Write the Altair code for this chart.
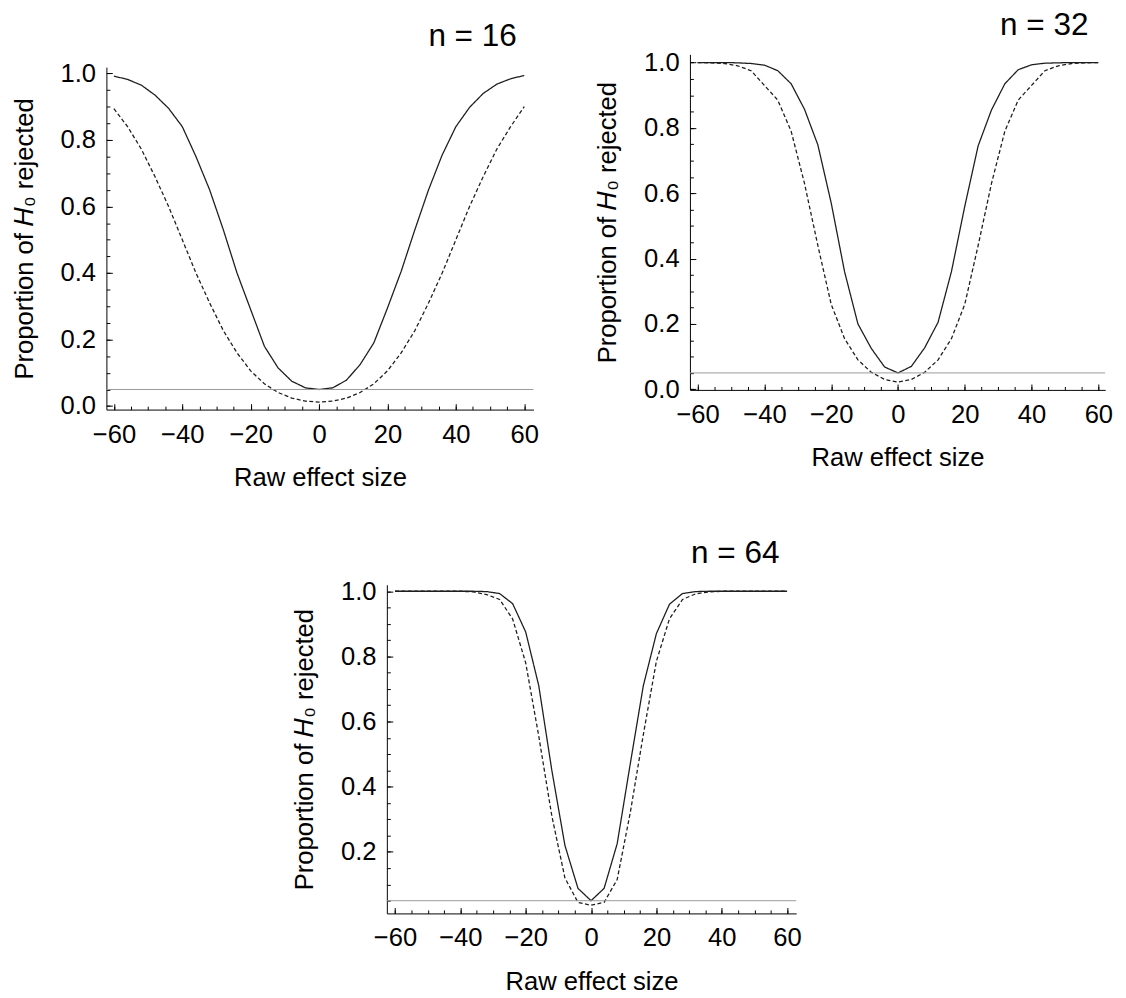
import altair as alt
import pandas as pd

FONT = "Liberation Sans"
TICK_COLOR = "black"

x_values = [-60, -56, -52, -48, -44, -40, -36, -32, -28, -24, -20, -16, -12, -8, -4, 0,
            4, 8, 12, 16, 20, 24, 28, 32, 36, 40, 44, 48, 52, 56, 60]

# n = 16
solid_16 = [0.992, 0.982, 0.965, 0.935, 0.895, 0.84, 0.75, 0.65, 0.53, 0.40, 0.29, 0.18, 0.115, 0.075, 0.055, 0.05,
            0.055, 0.078, 0.125, 0.19, 0.295, 0.405, 0.53, 0.65, 0.755, 0.84, 0.898, 0.94, 0.968, 0.984, 0.994]
dashed_16 = [0.894, 0.84, 0.773, 0.69, 0.60, 0.50, 0.40, 0.31, 0.227, 0.16, 0.106, 0.067, 0.041, 0.024, 0.015, 0.012,
             0.015, 0.024, 0.041, 0.067, 0.106, 0.16, 0.227, 0.31, 0.40, 0.50, 0.60, 0.69, 0.773, 0.84, 0.90]
# n = 32
solid_32 = [1.0, 1.0, 1.0, 0.999, 0.997, 0.992, 0.975, 0.935, 0.857, 0.748, 0.57, 0.36, 0.20, 0.125, 0.068, 0.05,
            0.07, 0.127, 0.205, 0.36, 0.56, 0.745, 0.855, 0.935, 0.978, 0.993, 0.998, 0.999, 1.0, 1.0, 1.0]
dashed_32 = [1.0, 0.999, 0.997, 0.99, 0.975, 0.93, 0.885, 0.79, 0.63, 0.44, 0.26, 0.155, 0.09, 0.052, 0.03, 0.022,
             0.03, 0.052, 0.09, 0.155, 0.26, 0.44, 0.63, 0.79, 0.885, 0.93, 0.975, 0.99, 0.997, 0.999, 1.0]
# n = 64
solid_64 = [1.0, 1.0, 1.0, 1.0, 1.0, 1.0, 1.0, 0.999, 0.993, 0.962, 0.875, 0.71, 0.45, 0.22, 0.088, 0.05,
            0.088, 0.225, 0.47, 0.71, 0.87, 0.96, 0.993, 0.999, 1.0, 1.0, 1.0, 1.0, 1.0, 1.0, 1.0]
dashed_64 = [1.0, 1.0, 1.0, 1.0, 1.0, 1.0, 0.998, 0.99, 0.975, 0.915, 0.78, 0.555, 0.31, 0.12, 0.045, 0.036,
             0.045, 0.115, 0.32, 0.56, 0.785, 0.915, 0.975, 0.992, 0.998, 1.0, 1.0, 1.0, 1.0, 1.0, 1.0]

alpha_level = [0.05]

x_major = [-60, -40, -20, 0, 20, 40, 60]
x_minor = [-60, -55, -50, -45, -40, -35, -30, -25, -20, -15, -10, -5, 0,
           5, 10, 15, 20, 25, 30, 35, 40, 45, 50, 55, 60]
y_major = [0.0, 0.2, 0.4, 0.6, 0.8, 1.0]
y_major_64 = [0.2, 0.4, 0.6, 0.8, 1.0]
y_minor = [0.0, 0.05, 0.1, 0.15, 0.2, 0.25, 0.3, 0.35, 0.4, 0.45, 0.5, 0.55, 0.6, 0.65,
           0.7, 0.75, 0.8, 0.85, 0.9, 0.95, 1.0]
y_minor_64 = [0.05, 0.1, 0.15, 0.2, 0.25, 0.3, 0.35, 0.4, 0.45, 0.5, 0.55, 0.6, 0.65,
              0.7, 0.75, 0.8, 0.85, 0.9, 0.95, 1.0]

Y_TITLE = "Proportion of \U0001D43B\u2080 rejected"
X_TITLE = "Raw effect size"


def panel(title, solid, dashed, xdom, ydom, W, H, ymaj, ymin):
    rows = [{"x": x, "p": v, "s": "solid"} for x, v in zip(x_values, solid)]
    rows += [{"x": x, "p": v, "s": "dashed"} for x, v in zip(x_values, dashed)]
    df = pd.DataFrame(rows)

    xs = alt.Scale(domain=xdom, nice=False, zero=False)
    ys = alt.Scale(domain=ydom, nice=False, zero=False)

    main_x = alt.Axis(orient="bottom", values=x_major, ticks=False, tickSize=0, labelPadding=12,
                      labelFont=FONT, labelFontSize=26, labelColor="black", labelFlush=False,
                      labelOverlap=False, domainColor="black", domainWidth=1, grid=False,
                      title=X_TITLE, titleFont=FONT, titleFontSize=26,
                      titleFontWeight="normal", titleColor="black", titlePadding=18)
    main_y = alt.Axis(orient="left", values=ymaj, format=".1f", ticks=False, tickSize=0, labelPadding=11,
                      labelFont=FONT, labelFontSize=26, labelColor="black", labelFlush=False,
                      labelOverlap=False, domainColor="black", domainWidth=1, grid=False,
                      title=Y_TITLE, titleFont=FONT, titleFontSize=26,
                      titleFontWeight="normal", titleColor="black", titlePadding=23)

    lines = alt.Chart(df).mark_line(color="#1e1e1e", strokeWidth=1.3).encode(
        x=alt.X("x:Q", scale=xs, axis=main_x),
        y=alt.Y("p:Q", scale=ys, axis=main_y),
        strokeDash=alt.StrokeDash("s:N", scale=alt.Scale(domain=["solid", "dashed"],
                                                         range=[[1, 0], [4, 2.5]]), legend=None),
        detail="s:N",
    )
    hline = alt.Chart(pd.DataFrame({"y": alpha_level})).mark_rule(color="#999999", strokeWidth=1).encode(
        y=alt.Y("y:Q", scale=ys, axis=main_y)
    )
    inner = alt.layer(lines, hline)

    def tick_layer(xv, yv, size):
        return alt.Chart(df).mark_point(opacity=0, size=1).encode(
            x=alt.X("x:Q", scale=xs, axis=alt.Axis(orient="top", offset=-H, values=xv, labels=False,
                                                   domain=False, ticks=True, tickSize=size,
                                                   tickColor=TICK_COLOR, tickWidth=1, grid=False, title=None)),
            y=alt.Y("p:Q", scale=ys, axis=alt.Axis(orient="right", offset=-W, values=yv, labels=False,
                                                   domain=False, ticks=True, tickSize=size,
                                                   tickColor=TICK_COLOR, tickWidth=1, grid=False, title=None)),
        )

    major = tick_layer(x_major, ymaj, 6)
    minor = tick_layer(x_minor, ymin, 3.5)

    return alt.layer(inner, major, minor).resolve_scale(x="independent", y="independent").properties(
        width=W, height=H,
        title=alt.TitleParams(text=title, anchor="end", frame="group", dx=-17, offset=-16.7,
                              baseline="alphabetic", font=FONT, fontSize=32, fontWeight="normal",
                              color="black"),
    )


def vspacer(h):
    return alt.Chart(pd.DataFrame({"a": [0]})).mark_rule(opacity=0).encode(
        x=alt.value(0), y=alt.value(0), y2=alt.value(h)
    ).properties(width=1, height=h)


def hspacer(w):
    return alt.Chart(pd.DataFrame({"a": [0]})).mark_rule(opacity=0).encode(
        x=alt.value(0), x2=alt.value(w), y=alt.value(0)
    ).properties(width=w, height=1)


p1 = panel("n = 16", solid_16, dashed_16, [-62.2, 62.7], [-0.0104, 1.019], 434, 348,
           y_major, y_minor)
p2 = panel("n = 32", solid_32, dashed_32, [-62.3, 62.05], [-0.002, 1.025], 422, 341,
           y_major, y_minor)
p3 = panel("n = 64", solid_64, dashed_64, [-62.5, 62.8], [0.011, 1.02], 416, 334,
           y_major_64, y_minor_64)

row1 = alt.hconcat(
    alt.vconcat(vspacer(15), p1, spacing=0),
    alt.vconcat(vspacer(4), p2, spacing=0),
    spacing=56,
)
row2 = alt.hconcat(hspacer(188), p3, spacing=0)

chart = alt.vconcat(row1, row2, spacing=48).properties(
    padding={"left": 3, "top": -11, "right": 5, "bottom": 5},
    background="white",
).configure_view(strokeWidth=0).configure_axis(grid=False)

chart.save("out.html", embed_options={"renderer": "svg", "actions": False})
